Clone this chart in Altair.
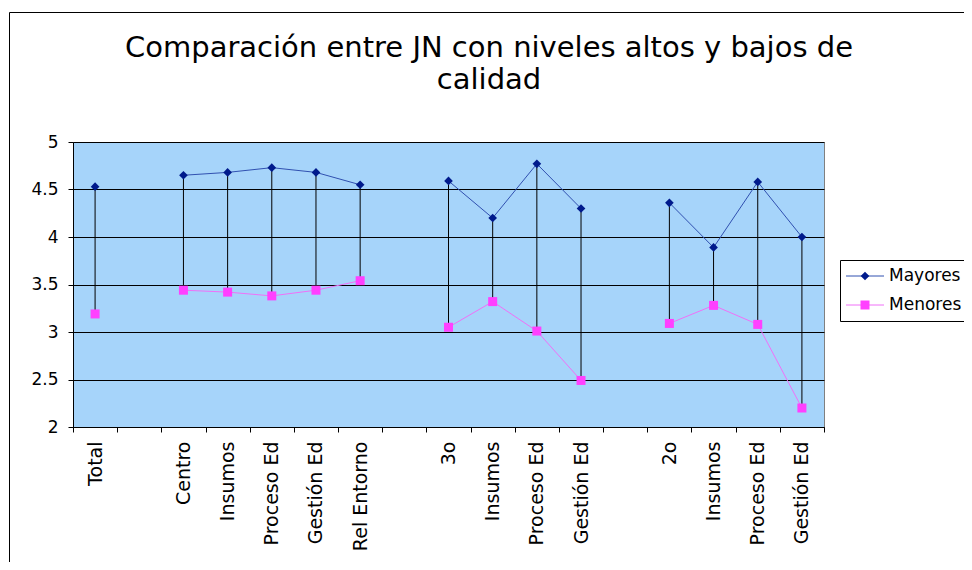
import json
import altair as alt
import pandas as pd

# ---- data ----
labels = ["Total", "", "Centro", "Insumos", "Proceso Ed", "Gestión Ed", "Rel Entorno", "",
          "3o", "Insumos", "Proceso Ed", "Gestión Ed", "",
          "2o", "Insumos", "Proceso Ed", "Gestión Ed"]
mayores = [4.53, None, 4.65, 4.68, 4.73, 4.68, 4.55, None,
           4.59, 4.20, 4.77, 4.30, None,
           4.36, 3.89, 4.58, 4.00]
menores = [3.19, None, 3.44, 3.42, 3.38, 3.44, 3.54, None,
           3.05, 3.32, 3.01, 2.49, None,
           3.09, 3.28, 3.08, 2.20]
series = ["Mayores", "Menores"]
y_ticks = [2, 2.5, 3, 3.5, 4, 4.5, 5]
title_lines = ["Comparación entre JN con niveles altos y bajos de", "calidad"]

# segments (lines break at blank categories)
seg, s = [], 0
for lab in labels:
    if lab == "":
        s += 1
    seg.append(s)

wide = pd.DataFrame({"pos": list(range(len(labels))), "label": labels,
                     "Mayores": mayores, "Menores": menores, "seg": seg})
wide_valid = wide.dropna(subset=["Mayores", "Menores"])

long_rows = []
for name, vals in zip(series, [mayores, menores]):
    for i, v in enumerate(vals):
        if v is not None:
            long_rows.append({"pos": i, "serie": name, "value": v, "seg": seg[i]})
long = pd.DataFrame(long_rows)

FONT = "DejaVu Sans"
line_colors = {"Mayores": "#3050B0", "Menores": "#F070F8"}
mark_colors = {"Mayores": "#001A8C", "Menores": "#FF40FF"}
shapes = {"Mayores": "diamond", "Menores": "square"}
sizes = {"Mayores": 75, "Menores": 81}

label_expr = json.dumps(labels, ensure_ascii=False) + "[datum.value]"

x_enc = alt.X("pos:O",
              scale=alt.Scale(domain=list(range(len(labels))), paddingInner=0, paddingOuter=0),
              axis=alt.Axis(title=None, labelExpr=label_expr, labelAngle=270,
                            labelAlign="right", labelBaseline="middle",
                            labelFontSize=19, labelPadding=9, tickBand="extent",
                            tickSize=5, grid=False))
y_scale = alt.Scale(domain=[2, 5], nice=False, zero=False)
y_axis = alt.Axis(title=None, values=y_ticks, format="~g", labelFontSize=17,
                  labelPadding=10, tickSize=5, grid=True, gridColor="black", gridWidth=1)

one_row = pd.DataFrame({"a": [0]})

# border of the whole chart
border = alt.Chart(one_row).mark_rect(
    filled=False, stroke="black", strokeWidth=1
).encode(x=alt.value(-63.5), x2=alt.value(1000), y=alt.value(-129.5), y2=alt.value(600))

hilo = alt.Chart(wide_valid).mark_rule(color="black", strokeWidth=1).encode(
    x=x_enc,
    y=alt.Y("Mayores:Q", scale=y_scale, axis=y_axis),
    y2="Menores:Q",
)

layers = [border, hilo]
for name in series:
    d = long[long["serie"] == name]
    layers.append(
        alt.Chart(d).mark_line(color=line_colors[name], strokeWidth=1).encode(
            x=x_enc, y=alt.Y("value:Q", scale=y_scale, axis=y_axis), detail="seg:N")
    )
for name in series:
    d = long[long["serie"] == name]
    layers.append(
        alt.Chart(d).mark_point(shape=shapes[name], filled=True, opacity=1,
                                color=mark_colors[name], size=sizes[name]).encode(
            x=x_enc, y=alt.Y("value:Q", scale=y_scale, axis=y_axis))
    )

# legend (drawn manually to show line + marker)
leg_box = alt.Chart(one_row).mark_rect(
    fill="white", stroke="black", strokeWidth=1
).encode(x=alt.value(767.5), x2=alt.value(1000), y=alt.value(118.5), y2=alt.value(179.5))
layers.append(leg_box)
for k, name in enumerate(series):
    yy = 134 + k * 29
    one = pd.DataFrame({"serie": [name]})
    layers.append(alt.Chart(one).mark_rule(color=line_colors[name], strokeWidth=1).encode(
        x=alt.value(773), x2=alt.value(811), y=alt.value(yy)))
    layers.append(alt.Chart(one).mark_point(shape=shapes[name], filled=True, opacity=1,
                                            color=mark_colors[name], size=sizes[name]).encode(
        x=alt.value(792), y=alt.value(yy)))
    layers.append(alt.Chart(one).mark_text(align="left", baseline="middle", font=FONT,
                                           fontSize=17, color="black").encode(
        x=alt.value(816), y=alt.value(yy), text="serie:N"))

# title as two text lines
for k, line in enumerate(title_lines):
    layers.append(alt.Chart(pd.DataFrame({"line": [line]})).mark_text(
        font=FONT, fontSize=29, color="black", align="center", baseline="alphabetic"
    ).encode(x=alt.value(416), y=alt.value(-85 + 32 * k), text="line:N"))

chart = alt.layer(*layers).properties(
    width=751, height=285,
    background="white",
    autosize=alt.AutoSizeParams(type="none"),
    padding={"left": 65, "top": 134, "right": 140, "bottom": 135},
).configure_axis(
    domainColor="black", tickColor="black", labelColor="black", labelFont=FONT,
).configure_view(
    fill="#A6D4FA", stroke="#808080"
)

chart.save("out.html", embed_options={"renderer": "svg", "actions": False})
